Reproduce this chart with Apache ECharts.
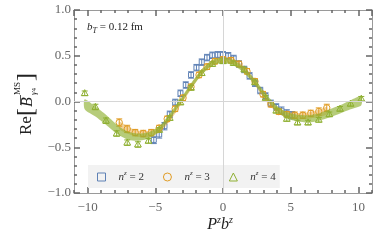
<!DOCTYPE html>
<html><head><meta charset="utf-8">
<script src="https://cdn.jsdelivr.net/npm/echarts@6/dist/echarts.min.js"></script>
<style>html,body{margin:0;padding:0;background:#fff}#c{width:382px;height:243px}</style>
</head><body><div id="c"></div>
<script>
// ---- data ----
const xTickLabels = ['−10','−5','0','5','10'];
const yTickLabels = ['−1.0','−0.5','0.0','0.5','1.0'];
const seriesNames = ['n2','n3','n4'];
const legendNumbers = ['2','3','4'];

// n^z = 2
const x2 = [-5.11,-4.71,-4.32,-3.93,-3.53,-3.14,-2.75,-2.36,-1.96,-1.57,-1.18,-0.79,-0.39,0,0.39,0.79,1.18,1.57,1.96,2.36,2.75,3.14,3.53,3.93,4.32,4.71,5.11];
const y2 = [-0.42,-0.36,-0.27,-0.14,-0.01,0.09,0.18,0.29,0.37,0.43,0.48,0.505,0.51,0.51,0.50,0.47,0.41,0.35,0.28,0.20,0.12,0.06,-0.02,-0.06,-0.10,-0.13,-0.15];
const e2 = [0.04,0.04,0.04,0.035,0.035,0.035,0.035,0.035,0.035,0.035,0.035,0.035,0.035,0.035,0.035,0.035,0.035,0.035,0.035,0.035,0.035,0.035,0.035,0.035,0.04,0.04,0.04];

// n^z = 3
const x3 = [-7.66,-7.07,-6.48,-5.89,-5.30,-4.71,-4.12,-3.53,-2.95,-2.36,-1.77,-1.18,-0.59,0,0.59,1.18,1.77,2.36,2.95,3.53,4.12,4.71,5.30,5.89,6.48,7.07,7.66];
const y3 = [-0.23,-0.30,-0.34,-0.35,-0.34,-0.29,-0.19,-0.08,0.04,0.16,0.29,0.38,0.44,0.46,0.45,0.41,0.33,0.22,0.08,-0.03,-0.11,-0.14,-0.15,-0.15,-0.13,-0.11,-0.07];
const e3 = [0.04,0.04,0.035,0.035,0.035,0.03,0.03,0.03,0.03,0.03,0.03,0.03,0.03,0.03,0.03,0.03,0.03,0.03,0.03,0.03,0.03,0.03,0.035,0.035,0.035,0.04,0.04];
const lo3 = [-0.30,-0.35,-0.38,-0.395,-0.385,-0.34,-0.25,-0.13,0.00,0.13,0.26,0.35,0.41,0.425,0.415,0.37,0.29,0.18,0.05,-0.06,-0.13,-0.18,-0.195,-0.195,-0.185,-0.17,-0.14];
const hi3 = [-0.22,-0.27,-0.31,-0.325,-0.315,-0.28,-0.19,-0.07,0.06,0.19,0.32,0.41,0.47,0.485,0.475,0.43,0.35,0.24,0.11,0.00,-0.07,-0.11,-0.125,-0.125,-0.115,-0.09,-0.06];

// n^z = 4
const x4 = [-10.21,-9.42,-8.64,-7.85,-7.07,-6.28,-5.50,-4.71,-3.93,-3.14,-2.36,-1.57,-0.79,0,0.79,1.57,2.36,3.14,3.93,4.71,5.50,6.28,7.07,7.85,8.64,9.42,10.21];
const y4 = [0.09,-0.06,-0.21,-0.35,-0.45,-0.47,-0.43,-0.31,-0.18,-0.01,0.15,0.31,0.41,0.44,0.42,0.35,0.21,0.04,-0.10,-0.19,-0.23,-0.23,-0.20,-0.14,-0.08,-0.025,0.03];
const e4 = [0.025,0.03,0.03,0.03,0.03,0.03,0.025,0.025,0.025,0.025,0.025,0.025,0.025,0.025,0.025,0.025,0.025,0.025,0.025,0.025,0.025,0.025,0.025,0.025,0.025,0.025,0.025];
const lo4 = [-0.085,-0.165,-0.255,-0.35,-0.415,-0.43,-0.405,-0.33,-0.19,-0.03,0.14,0.29,0.39,0.42,0.39,0.31,0.18,0.03,-0.10,-0.185,-0.215,-0.23,-0.21,-0.175,-0.13,-0.085,-0.04];
const hi4 = [0.025,-0.055,-0.145,-0.25,-0.325,-0.35,-0.335,-0.27,-0.13,0.03,0.20,0.35,0.45,0.48,0.45,0.37,0.24,0.09,-0.04,-0.115,-0.145,-0.15,-0.13,-0.085,-0.04,0.015,0.06];

// ---- style ----
const BLUE = '#5E81B5', ORANGE = '#E19C24', GREEN = '#8FB032';
const SERIF = 'Liberation Serif, DejaVu Serif, serif';

function errSeries(name, xs, ys, es, color, shape) {
  return {
    name, type: 'custom', xAxisIndex: 0, yAxisIndex: 0,
    data: xs.map((x, i) => [x, ys[i], es[i]]),
    renderItem(params, api) {
      const x = api.value(0), y = api.value(1), e = api.value(2);
      const c = api.coord([x, y]), t = api.coord([x, y + e]), b = api.coord([x, y - e]);
      const hw = 3;
      const st = { stroke: color, lineWidth: 1, fill: null };
      const ch = [
        { type: 'line', shape: { x1: c[0], y1: t[1], x2: c[0], y2: b[1] }, style: st },
        { type: 'line', shape: { x1: c[0] - hw, y1: t[1], x2: c[0] + hw, y2: t[1] }, style: st },
        { type: 'line', shape: { x1: c[0] - hw, y1: b[1], x2: c[0] + hw, y2: b[1] }, style: st }
      ];
      if (shape === 'rect') ch.push({ type: 'rect', shape: { x: c[0] - 2.5, y: c[1] - 2.5, width: 5, height: 5 }, style: st });
      else if (shape === 'circle') ch.push({ type: 'circle', shape: { cx: c[0], cy: c[1], r: 3.2 }, style: st });
      else ch.push({ type: 'polygon', shape: { points: [[c[0], c[1] - 3.6], [c[0] + 3.4, c[1] + 2.4], [c[0] - 3.4, c[1] + 2.4]] }, style: st });
      return { type: 'group', children: ch };
    }
  };
}
function bandSeries(xs, lo, hi, color) {
  return {
    type: 'custom', xAxisIndex: 0, yAxisIndex: 0, silent: true,
    data: xs.map((x, i) => [x, lo[i], hi[i]]),
    renderItem(params, api) {
      if (params.dataIndex !== 0) return null;
      const up = xs.map((x, i) => api.coord([x, hi[i]]));
      const dn = xs.map((x, i) => api.coord([x, lo[i]])).reverse();
      return { type: 'polygon', shape: { points: up.concat(dn), smooth: 0.25 },
        style: { fill: color, stroke: null } };
    }
  };
}

const xFmt = v => { const i = [-10,-5,0,5,10].indexOf(v); return i >= 0 ? xTickLabels[i] : ''; };
const yFmt = v => { const i = [-1,-0.5,0,0.5,1].indexOf(Math.round(v*10)/10); return i >= 0 ? yTickLabels[i] : ''; };

const TICK = '#666666';
function xAxisDef(pos, minor) {
  const a = {
    type: 'value', min: -11, max: 11, position: pos,
    axisLine: { show: !minor, onZero: false, lineStyle: { color: '#9a9a9a', width: 1 } },
    axisTick: { show: true, inside: true, length: minor ? 3 : 6, lineStyle: { color: TICK, width: 1.5 } },
    axisLabel: { show: pos === 'bottom' && !minor, formatter: xFmt, showMinLabel: false, showMaxLabel: false,
      margin: 8, fontFamily: SERIF, fontSize: 13, color: '#666' },
    splitLine: { show: false }
  };
  if (minor) a.interval = 1;
  return a;
}
function yAxisDef(pos, minor) {
  return {
    type: 'value', min: -1, max: 1, interval: minor ? 0.1 : 0.5, position: pos,
    axisLine: { show: !minor, onZero: false, lineStyle: { color: '#9a9a9a', width: 1 } },
    axisTick: { show: true, inside: true, length: minor ? 3 : 6, lineStyle: { color: TICK, width: 1.5 } },
    axisLabel: { show: pos === 'left' && !minor, formatter: yFmt, margin: 3, fontFamily: SERIF, fontSize: 13, color: '#666' },
    splitLine: { show: false }
  };
}

const legendIcons = ['rect', 'circle', 'triangle'];
const legendColors = [BLUE, ORANGE, GREEN];

const option = {
  animation: false,
  backgroundColor: '#fff',
  grid: { left: 74, right: 10, top: 10, bottom: 50 },
  xAxis: [xAxisDef('bottom', true), xAxisDef('bottom', false), xAxisDef('top', true), xAxisDef('top', false)],
  yAxis: [yAxisDef('left', false), yAxisDef('left', true), yAxisDef('right', false), yAxisDef('right', true)],
  legend: {
    left: 88, top: 165, orient: 'horizontal', selectedMode: false,
    backgroundColor: '#f2f2f2', padding: [5, 4, 5, 9], itemGap: 19,
    itemWidth: 8, itemHeight: 8,
    data: seriesNames.map((n, i) => ({ name: n, icon: legendIcons[i],
      itemStyle: { color: 'rgba(0,0,0,0)', borderColor: legendColors[i], borderWidth: 1 } })),
    formatter: n => '{g| }{i|n}{s|z}{t| = ' + legendNumbers[seriesNames.indexOf(n)] + '}',
    textStyle: {
      rich: {
        g: { width: 8 },
        i: { fontFamily: SERIF, fontStyle: 'italic', fontSize: 11, color: '#333', lineHeight: 14 },
        s: { fontFamily: SERIF, fontStyle: 'italic', fontSize: 7, color: '#333', lineHeight: 7, verticalAlign: 'top' },
        t: { fontFamily: SERIF, fontSize: 11, color: '#333', lineHeight: 14 }
      }
    }
  },
  graphic: [
    { type: 'text', left: 87, top: 22, style: {
      text: '{i|b}{sub|T}{t| = 0.12 fm}',
      rich: {
        i: { fontFamily: SERIF, fontStyle: 'italic', fontSize: 11, fill: '#222', lineHeight: 14 },
        sub: { fontFamily: SERIF, fontStyle: 'italic', fontSize: 8, fill: '#222', lineHeight: 8, verticalAlign: 'bottom' },
        t: { fontFamily: SERIF, fontSize: 11, fill: '#222', lineHeight: 14 }
      } } },
    { type: 'text', x: 220, y: 225, style: {
      text: '{i|P}{s|z}{i|b}{s|z}', align: 'center', verticalAlign: 'middle',
      rich: {
        i: { fontFamily: SERIF, fontStyle: 'italic', fontSize: 16, fill: '#222', lineHeight: 20 },
        s: { fontFamily: SERIF, fontStyle: 'italic', fontSize: 10, fill: '#222', lineHeight: 8, verticalAlign: 'top' }
      } } },
    { type: 'group', x: 27, y: 104, rotation: Math.PI / 2, children: [
      { type: 'text', x: -31, y: 0, style: { text: 'Re', fontFamily: SERIF, fontSize: 17, fill: '#222', align: 'left', verticalAlign: 'middle' } },
      { type: 'text', x: -8, y: 0, style: { text: '[', fontFamily: SERIF, fontSize: 24, fill: '#222', align: 'center', verticalAlign: 'middle' } },
      { type: 'text', x: -3, y: 1, style: { text: 'B', fontFamily: SERIF, fontStyle: 'italic', fontSize: 16, fill: '#222', align: 'left', verticalAlign: 'middle' } },
      { type: 'line', shape: { x1: -1, y1: -6.5, x2: 9, y2: -6.5 }, style: { stroke: '#222', lineWidth: 0.8 } },
      { type: 'text', x: 9, y: -9, style: { text: 'MS', fontFamily: SERIF, fontSize: 9, fill: '#222', align: 'left', verticalAlign: 'middle' } },
      { type: 'text', x: 9, y: 7, style: { text: '{g|γ}{n|4}', align: 'left', verticalAlign: 'middle',
        rich: { g: { fontFamily: SERIF, fontStyle: 'italic', fontSize: 9, fill: '#222' }, n: { fontFamily: SERIF, fontSize: 7, fill: '#222' } } } },
      { type: 'text', x: 27, y: 0, style: { text: ']', fontFamily: SERIF, fontSize: 24, fill: '#222', align: 'center', verticalAlign: 'middle' } }
    ] }
  ],
  series: [
    { type: 'line', data: [], silent: true, symbol: 'none', xAxisIndex: 1, yAxisIndex: 0,
      markLine: { silent: true, symbol: 'none', label: { show: false },
        lineStyle: { color: '#d6d6d6', width: 1, type: 'solid' },
        data: [{ xAxis: 0 }, { yAxis: 0 }] } },
    { ...errSeries('n2', x2, y2, e2, BLUE, 'rect'), xAxisIndex: 1 },
    { ...errSeries('n3', x3, y3, e3, ORANGE, 'circle'), xAxisIndex: 1 },
    { ...errSeries('n4', x4, y4, e4, GREEN, 'triangle'), xAxisIndex: 1 },
    { ...bandSeries(x3, lo3, hi3, 'rgba(225,156,36,0.45)'), xAxisIndex: 1 },
    { ...bandSeries(x4, lo4, hi4, 'rgba(143,176,50,0.65)'), xAxisIndex: 1 }
  ]
};
const chart = echarts.init(document.getElementById('c'), null, { renderer: 'canvas' });
chart.setOption(option);
</script></body></html>
